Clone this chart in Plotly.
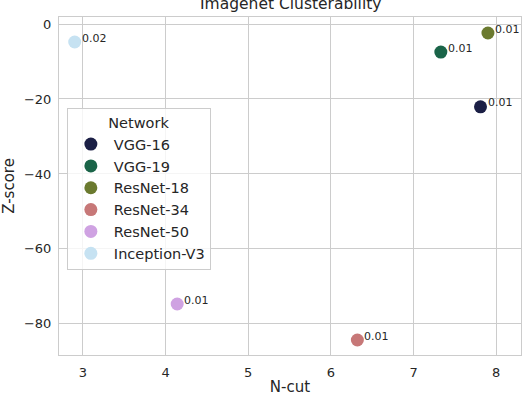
import plotly.graph_objects as go

## data
networks = ['VGG-16', 'VGG-19', 'ResNet-18', 'ResNet-34', 'ResNet-50', 'Inception-V3']
ncut = [7.81, 7.33, 7.90, 6.32, 4.14, 2.90]
zscore = [-22.1, -7.5, -2.4, -84.3, -74.7, -4.8]
pvalues = ['0.01', '0.01', '0.01', '0.01', '0.01', '0.02']
colors = ['#1b1f45', '#1a6448', '#6b7a2f', '#c77878', '#cfa2e2', '#c6e2f2']

params = dict(
    width = 522, height = 396,
    font = 'DejaVu Sans', fg = '#262626', grid = '#cccccc',
    )

fig = go.Figure()
for name, x, y, c in zip(networks, ncut, zscore, colors):
    fig.add_trace(go.Scatter(
        x = [x], y = [y], name = name, mode = 'markers',
        marker = dict(size = 13, color = c, line = dict(width = 0)),
        ))

annotations = [
    dict(x = x, y = y, text = p, showarrow = False, xanchor = 'left', yanchor = 'middle',
         xshift = 5, yshift = 4, font = dict(size = 11, color = params['fg']))
    for x, y, p in zip(ncut, zscore, pvalues)
    ]

axis_style = dict(
    showgrid = True, gridcolor = params['grid'], gridwidth = 1,
    showline = True, linecolor = params['grid'], linewidth = 1, mirror = True,
    zeroline = False, ticks = '', tickfont = dict(size = 13, color = params['fg']),
    )

fig.update_layout(
    width = params['width'], height = params['height'],
    plot_bgcolor = 'white', paper_bgcolor = 'white',
    font = dict(family = params['font'], color = params['fg']),
    margin = dict(l = 59, r = 1, t = 17, b = 41, autoexpand = False),
    title = dict(text = 'Imagenet Clusterability', x = 0.557, xanchor = 'center',
                 y = 0.99, yanchor = 'middle', font = dict(size = 15.5)),
    xaxis = dict(axis_style, range = [2.71, 8.30], dtick = 1, ticklabelstandoff = 5,
                 title = dict(text = 'N-cut', font = dict(size = 15), standoff = 10)),
    yaxis = dict(axis_style, range = [-88.3, 1.87], dtick = 20, ticklabelstandoff = 4,
                 title = dict(text = 'Z-score', font = dict(size = 15), standoff = 6)),
    legend = dict(
        x = 0.017, y = 0.73, xanchor = 'left', yanchor = 'top',
        bgcolor = 'rgba(255,255,255,0.8)', bordercolor = params['grid'], borderwidth = 1,
        font = dict(size = 14.5), tracegroupgap = 0, itemsizing = 'trace', itemwidth = 36,
        title = dict(text = 'Network', side = 'top center', font = dict(size = 14.5)),
        ),
    annotations = annotations,
    )

## drop the page's default body margin so the figure sits at the window's corner
fig.write_html('out.html', config = dict(displayModeBar = False),
               post_script = "document.body.style.margin = '0';")
